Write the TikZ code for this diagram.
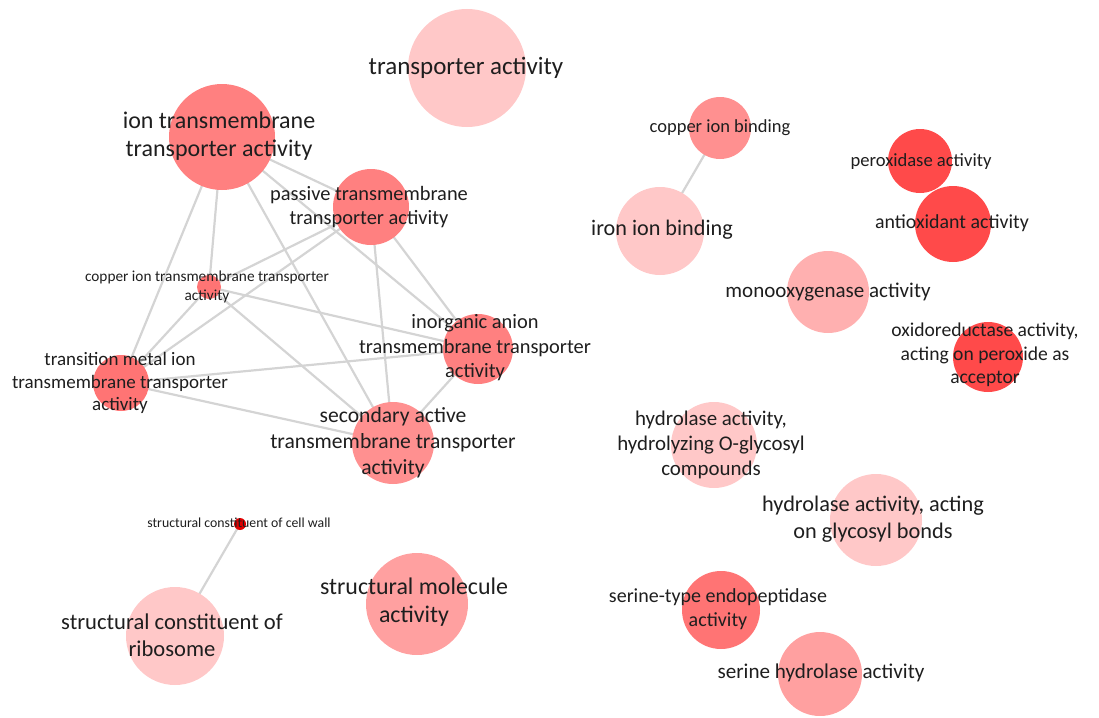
\documentclass[tikz,border=0pt]{standalone}
\usepackage{fontspec}
\setmainfont{Carlito}
\pgfdeclarelayer{edges}
\pgfsetlayers{edges,main}

% node fill shades (lighter = weaker enrichment)
\definecolor{cPale}{HTML}{FFC8C8}
\definecolor{cLight}{HTML}{FFB0B0}
\definecolor{cSoft}{HTML}{FFA0A0}
\definecolor{cMid}{HTML}{FF9090}
\definecolor{cSalmon}{HTML}{FF8080}
\definecolor{cDeep}{HTML}{FF7474}
\definecolor{cStrong}{HTML}{FF4A4A}
\definecolor{cRed}{HTML}{E00000}
\definecolor{linkgray}{HTML}{D4D4D4}
\definecolor{txt}{HTML}{1E1E1E}

\newcommand\lblsize[1]{\fontsize{#1}{\fpeval{1.2*#1}}\selectfont}

\tikzset{
  bub/.style 2 args={circle, fill=#2, draw=none, minimum size=#1, inner sep=0pt},
  lbl/.style={align=center, text=txt, inner sep=0pt, font=\lblsize{#1}},
  link/.style={draw=linkgray, line width=2.2pt},
}

\begin{document}
\begin{tikzpicture}[x=1pt, y=-1pt]
\useasboundingbox (0,0) rectangle (1099,717);

% ---- bubbles ----
\node[bub={118}{cPale}]   (tra)  at (467,68)  {};
\node[bub={106}{cSalmon}] (ion)  at (222,137) {};
\node[bub={76}{cSalmon}]  (pas)  at (371,207) {};
\node[bub={24}{cDeep}]    (cut)  at (209,287) {};
\node[bub={70}{cSalmon}]  (ani)  at (478,349) {};
\node[bub={56}{cDeep}]    (tmi)  at (121,383) {};
\node[bub={82}{cMid}]     (sec)  at (393,443) {};
\node[bub={12}{cRed}]     (wal)  at (240,524) {};
\node[bub={98}{cPale}]    (rib)  at (175,636) {};
\node[bub={102}{cSoft}]   (mol)  at (417,604) {};
\node[bub={62}{cMid}]     (cub)  at (720,128) {};
\node[bub={88}{cPale}]    (feb)  at (660,231) {};
\node[bub={64}{cStrong}]  (per)  at (920,161) {};
\node[bub={76}{cStrong}]  (ant)  at (953,224) {};
\node[bub={82}{cLight}]   (mon)  at (828,292) {};
\node[bub={70}{cStrong}]  (oxi)  at (988,357) {};
\node[bub={86}{cPale}]    (hog)  at (714,445) {};
\node[bub={92}{cPale}]    (hgb)  at (876,520) {};
\node[bub={78}{cDeep}]    (sep)  at (721,610) {};
\node[bub={84}{cSoft}]    (shy)  at (820,674) {};

% ---- links ----
\begin{pgfonlayer}{edges}
\foreach \a/\b in {ion/pas, ion/cut, ion/tmi, ion/sec, ion/ani,
                   pas/cut, pas/tmi, pas/ani, pas/sec,
                   cut/ani, cut/sec, cut/tmi,
                   tmi/ani, tmi/sec, ani/sec,
                   cub/feb, wal/rib}
  \draw[link] (\a.center) -- (\b.center);
\end{pgfonlayer}

% ---- labels ----
\node[lbl=25]   (tra-l) at (466,68)  {transporter activity};
\node[lbl=24]   (ion-l) at (219,136) {ion transmembrane\\transporter activity};
\node[lbl=20.4] (pas-l) at (369,207) {passive transmembrane\\transporter activity};
\node[lbl=15.3] (cut-l) at (207,287) {copper ion transmembrane transporter\\activity};
\node[lbl=20.4] (ani-l) at (475,348) {inorganic anion\\transmembrane transporter\\activity};
\node[lbl=19]   (tmi-l) at (120,383) {transition metal ion\\transmembrane transporter\\activity};
\node[lbl=21.6] (sec-l) at (393,443) {secondary active\\transmembrane transporter\\activity};
\node[lbl=13.8] (wal-l) at (239,523) {structural constituent of cell wall};
\node[lbl=22.6] (rib-l) at (172,635) {structural constituent of\\ribosome};
\node[lbl=23.9] (mol-l) at (414,602) {structural molecule\\activity};
\node[lbl=18.5] (cub-l) at (720,128) {copper ion binding};
\node[lbl=22.2] (feb-l) at (662,230) {iron ion binding};
\node[lbl=18.6] (per-l) at (921,162) {peroxidase activity};
\node[lbl=19.9] (ant-l) at (952,223) {antioxidant activity};
\node[lbl=21]   (mon-l) at (828,292) {monooxygenase activity};
\node[lbl=19.6] (oxi-l) at (985,355) {oxidoreductase activity,\\acting on peroxide as\\acceptor};
\node[lbl=20.9] (hog-l) at (711,445) {hydrolase activity,\\hydrolyzing O-glycosyl\\compounds};
\node[lbl=22.3] (hgb-l) at (873,519) {hydrolase activity, acting\\on glycosyl bonds};
\node[lbl=20]   (sep-l) at (718,609) {serine-type endopeptidase\\activity};
\node[lbl=21.1] (shy-l) at (821,673) {serine hydrolase activity};
\end{tikzpicture}
\end{document}
